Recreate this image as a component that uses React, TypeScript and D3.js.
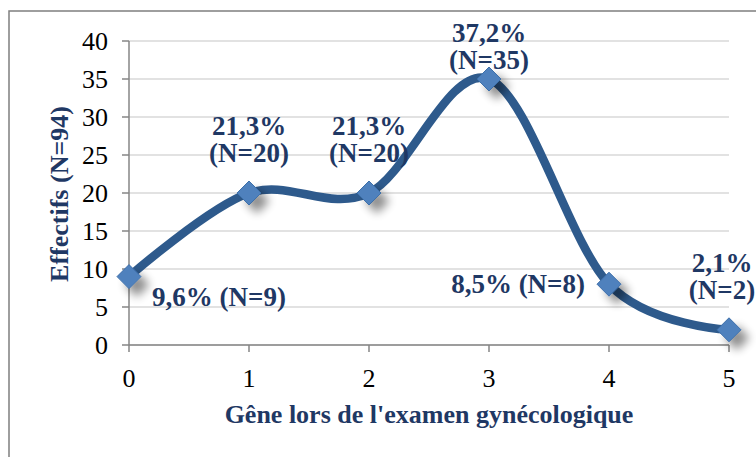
import React from "react";
import * as d3 from "d3";

const categories = [0, 1, 2, 3, 4, 5];
const effectifs = [9, 20, 20, 35, 8, 2];
const percents = ["9,6%", "21,3%", "21,3%", "37,2%", "8,5%", "2,1%"];
const nLabels = ["(N=9)", "(N=20)", "(N=20)", "(N=35)", "(N=8)", "(N=2)"];
const yTicks = [0, 5, 10, 15, 20, 25, 30, 35, 40];
// label layout: "right", "above", "left"
const labelModes = ["right", "above", "above", "above", "left", "above"];

const W = 756;
const H = 457;
const left = 129;
const right = 729;
const top = 41;
const bottom = 345;

const navy = "#1F3864";
const serif = "Liberation Serif, Times New Roman, serif";

export default function App() {
  const x = d3.scaleLinear().domain([0, 5]).range([left, right]);
  const y = d3.scaleLinear().domain([0, 40]).range([bottom, top]);
  const line = d3
    .line<number>()
    .x((_, i) => x(categories[i]))
    .y((d) => y(d))
    .curve(d3.curveCardinal.tension(0));
  const path = line(effectifs) || "";
  const r = 12;
  const tStyle: React.CSSProperties = { fontFamily: serif };
  const lf = 27;

  return (
    <svg
      width={W}
      height={H}
      style={{ position: "absolute", left: 0, top: 0, background: "#fff", fontFamily: serif }}
    >
      <defs>
        <filter id="sh" x="-100%" y="-100%" width="300%" height="300%">
          <feGaussianBlur in="SourceAlpha" stdDeviation="5" />
          <feOffset dx="8" dy="8" result="b" />
          <feComponentTransfer>
            <feFuncA type="linear" slope="0.45" />
          </feComponentTransfer>
          <feMerge>
            <feMergeNode />
            <feMergeNode in="SourceGraphic" />
          </feMerge>
        </filter>
      </defs>
      <rect x={9} y={11} width={780} height={480} fill="#fff" stroke="#7F7F7F" strokeWidth={1.5} />
      {yTicks.map((t) => (
        <line key={"g" + t} x1={left} x2={right} y1={y(t)} y2={y(t)} stroke="#D9D9D9" strokeWidth={1.5} />
      ))}
      <line x1={left} x2={left} y1={top} y2={bottom} stroke="#868686" strokeWidth={1.5} />
      {yTicks.map((t) => (
        <g key={"yt" + t}>
          <line x1={left - 7} x2={left} y1={y(t)} y2={y(t)} stroke="#868686" strokeWidth={1.5} />
          <text x={108} y={y(t) + 9} textAnchor="end" fontSize={26} fill="#000" style={tStyle}>
            {t}
          </text>
        </g>
      ))}
      <line x1={left} x2={right} y1={bottom} y2={bottom} stroke="#868686" strokeWidth={1.5} />
      {categories.map((c) => (
        <g key={"xt" + c}>
          <line x1={x(c)} x2={x(c)} y1={bottom} y2={bottom + 7} stroke="#868686" strokeWidth={1.5} />
          <text x={x(c)} y={387} textAnchor="middle" fontSize={26} fill="#000" style={tStyle}>
            {c}
          </text>
        </g>
      ))}
      <text x={429} y={423} textAnchor="middle" fontSize={26} fontWeight="bold" fill={navy} style={tStyle}>
        Gêne lors de l'examen gynécologique
      </text>
      <text
        transform={`translate(68, 194) rotate(-90)`}
        textAnchor="middle"
        fontSize={26}
        fontWeight="bold"
        fill={navy}
        style={tStyle}
      >
        Effectifs (N=94)
      </text>
      <path d={path} fill="none" stroke="#2E5A8C" strokeWidth={8.5} strokeLinecap="round" />
      <g filter="url(#sh)">
        {effectifs.map((v, i) => {
          const cx = x(categories[i]);
          const cy = y(v);
          return (
            <path
              key={"m" + i}
              d={`M${cx},${cy - r}L${cx + r},${cy}L${cx},${cy + r}L${cx - r},${cy}Z`}
              fill="#4F81BD"
              stroke="#3E6FAA"
              strokeWidth={1}
            />
          );
        })}
      </g>
      {effectifs.map((v, i) => {
        const cx = x(categories[i]);
        const cy = y(v);
        const mode = labelModes[i];
        if (mode === "right") {
          return (
            <text key={"l" + i} x={cx + 23} y={cy + 29} fontSize={lf} fontWeight="bold" fill={navy} style={tStyle}>
              {percents[i]} {nLabels[i]}
            </text>
          );
        }
        if (mode === "left") {
          return (
            <text key={"l" + i} x={cx - 24} y={cy + 9} textAnchor="end" fontSize={lf} fontWeight="bold" fill={navy} style={tStyle}>
              {percents[i]} {nLabels[i]}
            </text>
          );
        }
        const shift = i === categories.length - 1 ? -7 : 0;
        const off = i === 3 ? [-37, -10] : [-58, -31];
        return (
          <text key={"l" + i} textAnchor="middle" fontSize={lf} fontWeight="bold" fill={navy} style={tStyle}>
            <tspan x={cx + shift} y={cy + off[0]}>
              {percents[i]}
            </tspan>
            <tspan x={cx + shift} y={cy + off[1]}>
              {nLabels[i]}
            </tspan>
          </text>
        );
      })}
    </svg>
  );
}
